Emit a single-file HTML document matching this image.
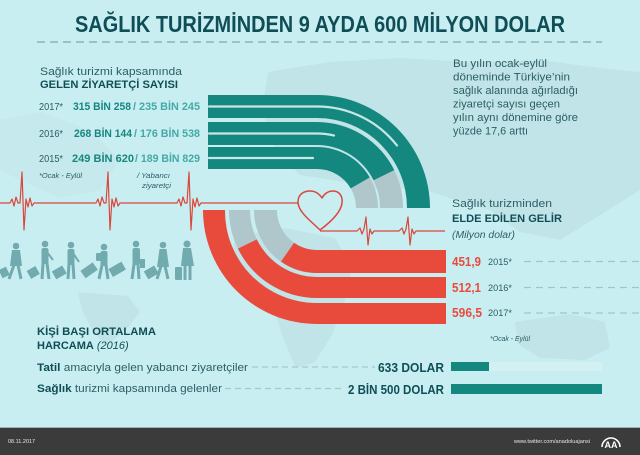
<!DOCTYPE html>
<html>
<head>
<meta charset="utf-8">
<style>
  html,body{margin:0;padding:0;background:#c9eef2;}
  svg{display:block;}
  text{font-family:"Liberation Sans","DejaVu Sans",sans-serif;}
</style>
</head>
<body>
<svg width="640" height="455" viewBox="0 0 640 455" xmlns="http://www.w3.org/2000/svg">
  <rect x="0" y="0" width="640" height="455" fill="#c9eef2"/>

  <!-- faint world map -->
  <g fill="#b7d8dc" opacity="0.45">
    <path d="M268,72 L330,62 L400,58 L470,62 L540,60 L600,68 L640,72 L640,190 L600,215 L560,240 L520,232 L490,210 L455,200 L420,188 L380,190 L345,182 L300,175 L275,150 L262,110 Z"/>
    <path d="M235,236 L285,228 L335,238 L352,268 L345,300 L332,335 L315,362 L296,368 L284,340 L272,305 L250,285 L232,262 Z"/>
    <path d="M78,292 L128,296 L140,312 L126,330 L106,346 L92,330 L82,310 Z"/>
    <path d="M515,322 L570,314 L605,322 L610,348 L585,360 L540,358 L518,344 Z"/>
    <path d="M0,120 L40,112 L90,130 L120,160 L100,190 L60,198 L20,180 L0,170 Z" opacity="0.5"/>
  </g>

  <!-- Title -->
  <text x="75" y="32" font-size="23" font-weight="bold" fill="#0f4e56" textLength="490" lengthAdjust="spacingAndGlyphs">SAĞLIK TURİZMİNDEN 9 AYDA 600 MİLYON DOLAR</text>
  <line x1="37" y1="42" x2="602" y2="42" stroke="#8db4b9" stroke-width="1.5" stroke-dasharray="8 5"/>

  <!-- Left header -->
  <text x="40" y="75" font-size="11" fill="#2b5e65" textLength="142" lengthAdjust="spacingAndGlyphs">Sağlık turizmi kapsamında</text>
  <text x="40" y="88" font-size="11" font-weight="bold" fill="#0f4e56" textLength="138" lengthAdjust="spacingAndGlyphs">GELEN ZİYARETÇİ SAYISI</text>

  <!-- Rows -->
  <text x="39" y="110" font-size="10" fill="#2b5e65" textLength="24" lengthAdjust="spacingAndGlyphs">2017*</text>
  <text x="73" y="110" font-size="11" font-weight="bold" fill="#15877f" textLength="58" lengthAdjust="spacingAndGlyphs">315 BİN 258</text>
  <text x="133" y="110" font-size="11" font-weight="bold" fill="#45a9a6" textLength="67" lengthAdjust="spacingAndGlyphs">/ 235 BİN 245</text>

  <text x="39" y="137" font-size="10" fill="#2b5e65" textLength="24" lengthAdjust="spacingAndGlyphs">2016*</text>
  <text x="74" y="137" font-size="11" font-weight="bold" fill="#15877f" textLength="58" lengthAdjust="spacingAndGlyphs">268 BİN 144</text>
  <text x="134" y="137" font-size="11" font-weight="bold" fill="#45a9a6" textLength="66" lengthAdjust="spacingAndGlyphs">/ 176 BİN 538</text>

  <text x="39" y="162" font-size="10" fill="#2b5e65" textLength="24" lengthAdjust="spacingAndGlyphs">2015*</text>
  <text x="72" y="162" font-size="11" font-weight="bold" fill="#15877f" textLength="62" lengthAdjust="spacingAndGlyphs">249 BİN 620</text>
  <text x="135" y="162" font-size="11" font-weight="bold" fill="#45a9a6" textLength="65" lengthAdjust="spacingAndGlyphs">/ 189 BİN 829</text>

  <text x="39" y="178" font-size="7.5" font-style="italic" fill="#2b5e65" textLength="43" lengthAdjust="spacingAndGlyphs">*Ocak - Eylül</text>
  <text x="137" y="178" font-size="7.5" font-style="italic" fill="#2b5e65" textLength="33" lengthAdjust="spacingAndGlyphs">/ Yabancı</text>
  <text x="142" y="188" font-size="7.5" font-style="italic" fill="#2b5e65" textLength="29" lengthAdjust="spacingAndGlyphs">ziyaretçi</text>

  <!-- Right paragraph -->
  <g font-size="11" fill="#2b5e65">
    <text x="453" y="67" textLength="94" lengthAdjust="spacingAndGlyphs">Bu yılın ocak-eylül</text>
    <text x="453" y="80.5" textLength="117" lengthAdjust="spacingAndGlyphs">döneminde Türkiye’nin</text>
    <text x="453" y="94" textLength="125" lengthAdjust="spacingAndGlyphs">sağlık alanında ağırladığı</text>
    <text x="453" y="107.5" textLength="107" lengthAdjust="spacingAndGlyphs">ziyaretçi sayısı geçen</text>
    <text x="453" y="121" textLength="125" lengthAdjust="spacingAndGlyphs">yılın aynı dönemine göre</text>
    <text x="453" y="134.5" textLength="75" lengthAdjust="spacingAndGlyphs">yüzde 17,6 arttı</text>
  </g>

  <!-- Teal arcs (center 317,208) -->
  <g>
    <path d="M208,95 H317 A113,113 0 0 1 430,208 H407 A90,90 0 0 0 317,118 H208 Z" fill="#14877f"/>
    <path d="M208,122 H317 A86,86 0 0 1 394.3,170.3 L373.6,180.4 A63,63 0 0 0 317,145 H208 Z" fill="#14877f"/>
    <path d="M394.3,170.3 A86,86 0 0 1 403,208 H380 A63,63 0 0 0 373.6,180.4 Z" fill="#afc7ca"/>
    <path d="M208,147 H317 A61,61 0 0 1 369.8,177.5 L350.8,188.5 A39,39 0 0 0 317,169 H208 Z" fill="#14877f"/>
    <path d="M369.8,177.5 A61,61 0 0 1 378,208 H356 A39,39 0 0 0 350.8,188.5 Z" fill="#afc7ca"/>
    <g fill="none" stroke="#c6e7e8" stroke-width="2.2" stroke-linecap="round">
      <path d="M209,106.5 H317 A101.5,101.5 0 0 1 397,145.5"/>
      <path d="M209,133.5 H317 A74.5,74.5 0 0 1 334,135.5"/>
      <path d="M209,158 H313"/>
    </g>
  </g>

  <!-- Red arcs (center 317,210) -->
  <g>
    <path d="M203,210 A114,114 0 0 0 317,324 H446 V303 H317 A92,92 0 0 1 225,210 Z" fill="#e84b3c"/>
    <path d="M229,210 A88,88 0 0 0 237.9,248.6 L256.8,239.4 A67,67 0 0 1 250,210 Z" fill="#afc7ca"/>
    <path d="M237.9,248.6 A88,88 0 0 0 317,298 H446 V277 H317 A67,67 0 0 1 256.8,239.4 Z" fill="#e84b3c"/>
    <path d="M254,210 A63,63 0 0 0 280.9,261.6 L294.1,242.8 A40,40 0 0 1 277,210 Z" fill="#afc7ca"/>
    <path d="M280.9,261.6 A63,63 0 0 0 317,273 H446 V250 H317 A40,40 0 0 1 294.1,242.8 Z" fill="#e84b3c"/>
  </g>

  <!-- Heartbeat line -->
  <g fill="none" stroke="#d9483c" stroke-width="1.2" stroke-linejoin="round">
    <polyline points="0,203 10,203 12,199 14,206 16,197 18,203 20,203 22,172 24,230 26,199 28,207 30,198 32,206 34,203
      96,203 98,199 100,206 102,197 104,203 106,203 108,172 110,230 112,199 114,207 116,198 118,206 120,203
      177,203 179,199 181,206 183,197 185,203 187,203 189,172 191,230 193,199 195,207 197,198 199,206 201,203 298,203"/>
    <path d="M320,230 C312,222 298,212 298,202 C298,194 304,191 310,191 C316,191 320,195 322,198 C324,194 328,191 333,191 C339,191 343,196 342,203 C341,213 328,224 320,230 Z" stroke-width="1.5"/>
    <polyline points="320,231 357,231 360,228 362,234 364,229 366,217 368,245 370,229 372,234 374,231
      399,231 402,228 404,234 406,229 408,217 410,245 412,229 414,234 416,231 445,231"/>
  </g>

  <!-- Travellers -->
  <g fill="#72abaf" stroke="#72abaf">
    <circle cx="16" cy="246" r="3.3" stroke="none"/>
    <path d="M12,250 L20,250 L22,266 L10,266 Z" stroke="none"/>
    <line x1="14" y1="265" x2="9" y2="279" stroke-width="3"/>
    <line x1="18" y1="265" x2="21" y2="279" stroke-width="3"/>
    <rect x="0" y="268" width="8" height="9" transform="rotate(-25 4 272)" stroke="none"/>

    <circle cx="45" cy="244" r="3.3" stroke="none"/>
    <rect x="41.5" y="248" width="7" height="16" rx="2" stroke="none"/>
    <line x1="43" y1="263" x2="42" y2="279" stroke-width="3"/>
    <line x1="47" y1="263" x2="49" y2="279" stroke-width="3"/>
    <line x1="47" y1="252" x2="53" y2="260" stroke-width="2"/>
    <rect x="28" y="268" width="10" height="9" transform="rotate(-30 33 272)" stroke="none"/>

    <circle cx="71" cy="245" r="3.3" stroke="none"/>
    <rect x="67.5" y="249" width="7" height="16" rx="2" stroke="none"/>
    <line x1="69" y1="264" x2="68" y2="279" stroke-width="3"/>
    <line x1="73" y1="264" x2="74" y2="279" stroke-width="3"/>
    <line x1="73" y1="253" x2="79" y2="262" stroke-width="2"/>
    <rect x="53" y="268" width="12" height="9" transform="rotate(-30 59 272)" stroke="none"/>

    <circle cx="104" cy="247" r="3.3" stroke="none"/>
    <rect x="100.5" y="251" width="7" height="15" rx="2" stroke="none"/>
    <rect x="96" y="253" width="6" height="8" rx="1.5" stroke="none"/>
    <line x1="102" y1="265" x2="99" y2="279" stroke-width="3"/>
    <line x1="106" y1="265" x2="108" y2="279" stroke-width="3"/>
    <rect x="82" y="266" width="15" height="9" transform="rotate(-35 89 271)" stroke="none"/>

    <circle cx="136" cy="244" r="3.3" stroke="none"/>
    <rect x="132.5" y="248" width="7.5" height="17" rx="2" stroke="none"/>
    <line x1="134" y1="264" x2="132" y2="279" stroke-width="3"/>
    <line x1="138" y1="264" x2="139" y2="279" stroke-width="3"/>
    <rect x="140" y="259" width="5" height="9" stroke="none"/>
    <rect x="110" y="265" width="15" height="9" transform="rotate(-30 117 270)" stroke="none"/>

    <circle cx="163" cy="245" r="3.3" stroke="none"/>
    <path d="M159.5,249 L166.5,249 L169,267 L157,267 Z" stroke="none"/>
    <line x1="161" y1="266" x2="157" y2="279" stroke-width="3"/>
    <line x1="165" y1="266" x2="168" y2="279" stroke-width="3"/>
    <rect x="145" y="268" width="12" height="9" transform="rotate(-30 151 272)" stroke="none"/>

    <circle cx="187" cy="244" r="3.5" stroke="none"/>
    <path d="M183,248 L191,248 L194,266 L181,266 Z" stroke="none"/>
    <line x1="185" y1="265" x2="185" y2="280" stroke-width="3"/>
    <line x1="190" y1="265" x2="190" y2="280" stroke-width="3"/>
    <rect x="175" y="267" width="7" height="13" rx="1" stroke="none"/>
  </g>

  <!-- Right revenue text -->
  <text x="452" y="207" font-size="11" fill="#2b5e65" textLength="100" lengthAdjust="spacingAndGlyphs">Sağlık turizminden</text>
  <text x="452" y="222" font-size="11" font-weight="bold" fill="#0f4e56" textLength="110" lengthAdjust="spacingAndGlyphs">ELDE EDİLEN GELİR</text>
  <text x="452" y="238" font-size="10" font-style="italic" fill="#2b5e65" textLength="63" lengthAdjust="spacingAndGlyphs">(Milyon dolar)</text>

  <g font-weight="bold" font-size="12.5" fill="#e84b3c">
    <text x="452" y="266" textLength="29" lengthAdjust="spacingAndGlyphs">451,9</text>
    <text x="452" y="292" textLength="29" lengthAdjust="spacingAndGlyphs">512,1</text>
    <text x="452" y="317" textLength="30" lengthAdjust="spacingAndGlyphs">596,5</text>
  </g>
  <g font-size="9.5" fill="#2b5e65">
    <text x="488" y="265" textLength="24" lengthAdjust="spacingAndGlyphs">2015*</text>
    <text x="488" y="291" textLength="24" lengthAdjust="spacingAndGlyphs">2016*</text>
    <text x="488" y="316" textLength="24" lengthAdjust="spacingAndGlyphs">2017*</text>
  </g>
  <g stroke="#a3c4c8" stroke-width="1.2" stroke-dasharray="7 5">
    <line x1="524" y1="261.5" x2="640" y2="261.5"/>
    <line x1="524" y1="287.5" x2="640" y2="287.5"/>
    <line x1="524" y1="313" x2="640" y2="313"/>
  </g>
  <text x="490" y="341" font-size="7.5" font-style="italic" fill="#2b5e65" textLength="40" lengthAdjust="spacingAndGlyphs">*Ocak - Eylül</text>

  <!-- Bottom section -->
  <text x="37" y="335" font-size="11" font-weight="bold" fill="#0f4e56" textLength="119" lengthAdjust="spacingAndGlyphs">KİŞİ BAŞI ORTALAMA</text>
  <text x="37" y="349" font-size="11" fill="#0f4e56"><tspan font-weight="bold">HARCAMA</tspan><tspan font-style="italic"> (2016)</tspan></text>

  <text x="37" y="371" font-size="11" fill="#2b5e65" textLength="211" lengthAdjust="spacingAndGlyphs"><tspan font-weight="bold" fill="#0f4e56">Tatil</tspan> amacıyla gelen yabancı ziyaretçiler</text>
  <text x="37" y="392" font-size="11" fill="#2b5e65" textLength="185" lengthAdjust="spacingAndGlyphs"><tspan font-weight="bold" fill="#0f4e56">Sağlık</tspan> turizmi kapsamında gelenler</text>
  <g stroke="#a9c8cc" stroke-width="1.2" stroke-dasharray="6 4">
    <line x1="252" y1="367" x2="375" y2="367"/>
    <line x1="225" y1="388.5" x2="345" y2="388.5"/>
  </g>
  <text x="378" y="372" font-size="12.5" font-weight="bold" fill="#0f4e56" textLength="66" lengthAdjust="spacingAndGlyphs">633 DOLAR</text>
  <text x="348" y="394" font-size="12.5" font-weight="bold" fill="#0f4e56" textLength="96" lengthAdjust="spacingAndGlyphs">2 BİN 500 DOLAR</text>

  <rect x="489" y="362" width="113" height="9" fill="#d3f0f3"/>
  <rect x="451" y="362" width="38" height="9" fill="#14877f"/>
  <rect x="451" y="384" width="151" height="10" fill="#14877f"/>

  <!-- Footer -->
  <rect x="0" y="427" width="640" height="28" fill="#3b3b3b"/>
  <line x1="0" y1="427.5" x2="640" y2="427.5" stroke="#9fb3b5" stroke-width="1"/>
  <text x="8" y="443" font-size="5.5" fill="#e6e6e6">08.11.2017</text>
  <text x="514" y="443" font-size="5.5" fill="#e6e6e6" textLength="76" lengthAdjust="spacingAndGlyphs">www.twitter.com/anadoluajansi</text>
  <g fill="none" stroke="#ffffff" stroke-width="1.6">
    <path d="M602,447 A9,9 0 0 1 620,447"/>
  </g>
  <text x="611" y="448" font-size="9" font-weight="bold" fill="#ffffff" text-anchor="middle">AA</text>
</svg>
</body>
</html>
